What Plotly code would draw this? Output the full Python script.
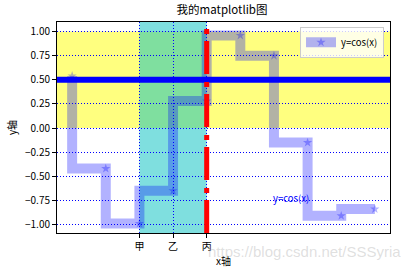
import plotly.graph_objects as go

# data
x_vals = [1, 2, 3, 4, 5, 6, 7, 8, 9, 10]
y_vals = [0.54, -0.42, -0.99, -0.65, 0.28, 0.96, 0.75, -0.15, -0.91, -0.84]
x_tickvals = [3, 4, 5]
x_ticklabels = ["甲", "乙", "丙"]
y_tickvals = [-1.0, -0.75, -0.5, -0.25, 0.0, 0.25, 0.5, 0.75, 1.0]
hspan = [0.0, 1.0]
vspan = [3, 5]
hline_y = 0.5
vline_x = 5
text_pos = [7, -0.75]

FONT = "Noto Sans CJK SC, sans-serif"

fig = go.Figure()
fig.add_trace(go.Scatter(
    x=x_vals, y=y_vals, mode="lines+markers", name="y=cos(x)",
    line=dict(color="rgba(0,0,255,0.3)", width=10, shape="vh"),
    marker=dict(symbol="star", size=7, color="rgba(0,0,255,0.3)"),
))

# spans (below grid)
fig.add_shape(type="rect", xref="x domain", x0=0, x1=1, yref="y",
              y0=hspan[0], y1=hspan[1], fillcolor="rgba(255,255,0,0.5)",
              line_width=0, layer="below")
fig.add_shape(type="rect", xref="x", x0=vspan[0], x1=vspan[1], yref="y domain",
              y0=0, y1=1, fillcolor="rgba(0,191,191,0.5)",
              line_width=0, layer="below")
# lines above
fig.add_shape(type="line", xref="x domain", x0=0, x1=1, yref="y",
              y0=hline_y, y1=hline_y, line=dict(color="blue", width=6), layer="above")
fig.add_shape(type="line", xref="x", x0=vline_x, x1=vline_x, yref="y domain",
              y0=0, y1=1, line=dict(color="red", width=5, dash="33px,7px,5px,8px"),
              layer="above")

fig.add_annotation(x=text_pos[0], y=text_pos[1], text="y=cos(x)", showarrow=False,
                   xanchor="left", yanchor="bottom", yshift=-7, xshift=-3,
                   font=dict(color="blue", size=9.5, family=FONT))

fig.add_annotation(xref="paper", yref="paper", x=1.039, y=-0.088,
                   text="https://blog.csdn.net/SSSyria", showarrow=False,
                   xanchor="right", yanchor="middle",
                   font=dict(color="rgba(185,185,185,0.45)", size=15,
                             family="Liberation Sans, Arial, sans-serif"))

fig.update_layout(
    width=415, height=277,
    margin=dict(l=55, r=25, t=22, b=38),
    plot_bgcolor="white", paper_bgcolor="white",
    font=dict(family=FONT, size=10, color="black"),
    title=dict(text="我的matplotlib图", x=0.535, xanchor="center", y=0.963,
               yanchor="middle", font=dict(size=11.5, family=FONT, color="black")),
    showlegend=True,
    legend=dict(x=0.982, y=0.977, xanchor="right", yanchor="top",
                bgcolor="rgba(255,255,255,0.8)", bordercolor="#cccccc", borderwidth=1,
                font=dict(size=9.5, family=FONT), itemwidth=30,
                tracegroupgap=0),
)
fig.update_xaxes(range=[0.55, 10.45], tickvals=x_tickvals, ticktext=x_ticklabels,
                 showgrid=True, gridcolor="blue", gridwidth=1, griddash="1px,2px",
                 zeroline=False, showline=True, mirror=True, linecolor="black",
                 linewidth=1, ticks="outside", ticklen=4, tickcolor="black",
                 title=dict(text="x轴", standoff=5, font=dict(size=10)))
fig.update_yaxes(range=[-1.0875, 1.0995], tickvals=y_tickvals, tickformat=".2f",
                 showgrid=True, gridcolor="blue", gridwidth=1, griddash="1px,2px",
                 zeroline=False, showline=True, mirror=True, linecolor="black",
                 linewidth=1, ticks="outside", ticklen=4, tickcolor="black",
                 title=dict(text="y轴", standoff=6, font=dict(size=10)))

fig.write_html("out.html")
